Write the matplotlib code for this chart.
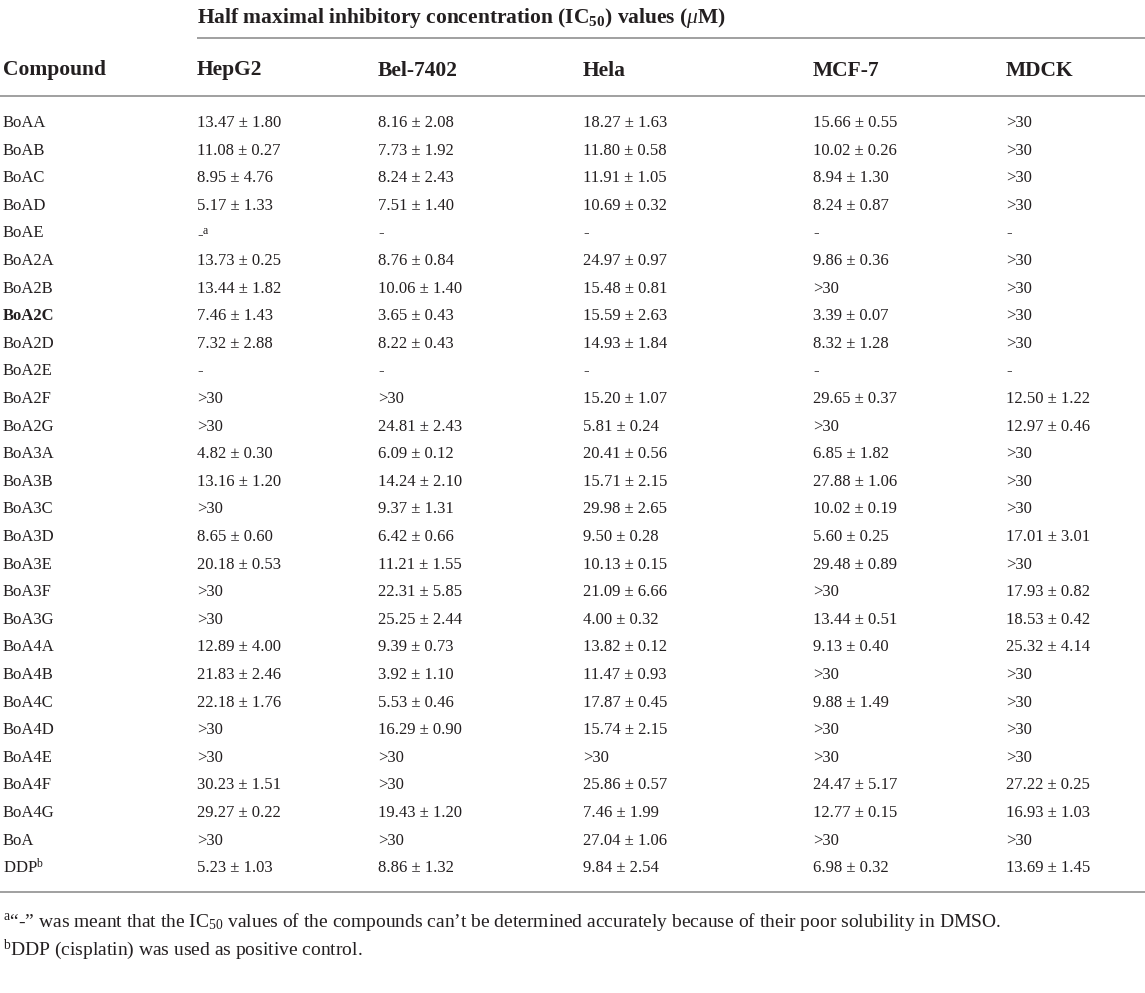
import matplotlib
matplotlib.use("Agg")
import matplotlib.pyplot as plt

plt.rcParams["font.family"] = ["Liberation Serif", "DejaVu Serif"]
plt.rcParams["mathtext.fontset"] = "custom"
plt.rcParams["mathtext.rm"] = "Liberation Serif"
plt.rcParams["mathtext.it"] = "Liberation Serif:italic"
plt.rcParams["mathtext.bf"] = "Liberation Serif:bold"

title = r"Half maximal inhibitory concentration (IC$_{\mathbf{50}}$) values ($\mathit{\mu}$M)"
headers = ["Compound", "HepG2", "Bel-7402", "Hela", "MCF-7", "MDCK"]

compounds = ["BoAA", "BoAB", "BoAC", "BoAD", "BoAE", "BoA2A", "BoA2B", "BoA2C",
             "BoA2D", "BoA2E", "BoA2F", "BoA2G", "BoA3A", "BoA3B", "BoA3C", "BoA3D",
             "BoA3E", "BoA3F", "BoA3G", "BoA4A", "BoA4B", "BoA4C", "BoA4D", "BoA4E",
             "BoA4F", "BoA4G", "BoA", r"DDP$^{\mathrm{b}}$"]

hepg2 = ["13.47 ± 1.80", "11.08 ± 0.27", "8.95 ± 4.76", "5.17 ± 1.33", r"-$^{\mathrm{a}}$",
         "13.73 ± 0.25", "13.44 ± 1.82", "7.46 ± 1.43", "7.32 ± 2.88", "-", ">30", ">30",
         "4.82 ± 0.30", "13.16 ± 1.20", ">30", "8.65 ± 0.60", "20.18 ± 0.53", ">30", ">30",
         "12.89 ± 4.00", "21.83 ± 2.46", "22.18 ± 1.76", ">30", ">30", "30.23 ± 1.51",
         "29.27 ± 0.22", ">30", "5.23 ± 1.03"]

bel7402 = ["8.16 ± 2.08", "7.73 ± 1.92", "8.24 ± 2.43", "7.51 ± 1.40", "-", "8.76 ± 0.84",
           "10.06 ± 1.40", "3.65 ± 0.43", "8.22 ± 0.43", "-", ">30", "24.81 ± 2.43",
           "6.09 ± 0.12", "14.24 ± 2.10", "9.37 ± 1.31", "6.42 ± 0.66", "11.21 ± 1.55",
           "22.31 ± 5.85", "25.25 ± 2.44", "9.39 ± 0.73", "3.92 ± 1.10", "5.53 ± 0.46",
           "16.29 ± 0.90", ">30", ">30", "19.43 ± 1.20", ">30", "8.86 ± 1.32"]

hela = ["18.27 ± 1.63", "11.80 ± 0.58", "11.91 ± 1.05", "10.69 ± 0.32", "-", "24.97 ± 0.97",
        "15.48 ± 0.81", "15.59 ± 2.63", "14.93 ± 1.84", "-", "15.20 ± 1.07", "5.81 ± 0.24",
        "20.41 ± 0.56", "15.71 ± 2.15", "29.98 ± 2.65", "9.50 ± 0.28", "10.13 ± 0.15",
        "21.09 ± 6.66", "4.00 ± 0.32", "13.82 ± 0.12", "11.47 ± 0.93", "17.87 ± 0.45",
        "15.74 ± 2.15", ">30", "25.86 ± 0.57", "7.46 ± 1.99", "27.04 ± 1.06", "9.84 ± 2.54"]

mcf7 = ["15.66 ± 0.55", "10.02 ± 0.26", "8.94 ± 1.30", "8.24 ± 0.87", "-", "9.86 ± 0.36",
        ">30", "3.39 ± 0.07", "8.32 ± 1.28", "-", "29.65 ± 0.37", ">30", "6.85 ± 1.82",
        "27.88 ± 1.06", "10.02 ± 0.19", "5.60 ± 0.25", "29.48 ± 0.89", ">30", "13.44 ± 0.51",
        "9.13 ± 0.40", ">30", "9.88 ± 1.49", ">30", ">30", "24.47 ± 5.17", "12.77 ± 0.15",
        ">30", "6.98 ± 0.32"]

mdck = [">30", ">30", ">30", ">30", "-", ">30", ">30", ">30", ">30", "-", "12.50 ± 1.22",
        "12.97 ± 0.46", ">30", ">30", ">30", "17.01 ± 3.01", ">30", "17.93 ± 0.82",
        "18.53 ± 0.42", "25.32 ± 4.14", ">30", ">30", ">30", ">30", "27.22 ± 0.25",
        "16.93 ± 1.03", ">30", "13.69 ± 1.45"]

bold_rows = ["BoA2C"]

footnotes = [
    r"$^{\mathrm{a}}$“-” was meant that the IC$_{50}$ values of the compounds can’t be "
    r"determined accurately because of their poor solubility in DMSO.",
    r"$^{\mathrm{b}}$DDP (cisplatin) was used as positive control.",
]

W, H = 1145, 993
text_col = "#231f20"
rule_col = "#a0a0a0"
col_x = [3, 197, 378, 583, 813, 1006]

fig = plt.figure(figsize=(W / 100, H / 100), dpi=100)
ax = fig.add_axes([0, 0, 1, 1])
ax.set_xlim(0, W)
ax.set_ylim(H, 0)
ax.axis("off")

# header
ax.text(col_x[1], 15, title, fontsize=15.5, fontweight="bold", color=text_col,
        ha="left", va="center_baseline")
ax.plot([col_x[1], W], [38, 38], color=rule_col, lw=1.4, solid_capstyle="butt")
for x, h in zip(col_x, headers):
    ax.text(x, 68, h, fontsize=15.5, fontweight="bold", color=text_col,
            ha="left", va="center_baseline")
ax.plot([0, W], [96, 96], color=rule_col, lw=1.4, solid_capstyle="butt")

# body
columns = [compounds, hepg2, bel7402, hela, mcf7, mdck]
y0, dy = 121, 27.6
for i in range(len(compounds)):
    y = y0 + i * dy
    for j, col in enumerate(columns):
        weight = "bold" if (j == 0 and col[i] in bold_rows) else "normal"
        ax.text(col_x[j], y, col[i], fontsize=12, fontweight=weight, color=text_col,
                ha="left", va="center_baseline")

y_last = y0 + (len(compounds) - 1) * dy
ax.plot([0, W], [y_last + 26, y_last + 26], color=rule_col, lw=1.4, solid_capstyle="butt")

for k, note in enumerate(footnotes):
    ax.text(3, y_last + 53 + k * 27, note, fontsize=14, color=text_col,
            ha="left", va="center_baseline")

fig.savefig("out.png", dpi=100)
